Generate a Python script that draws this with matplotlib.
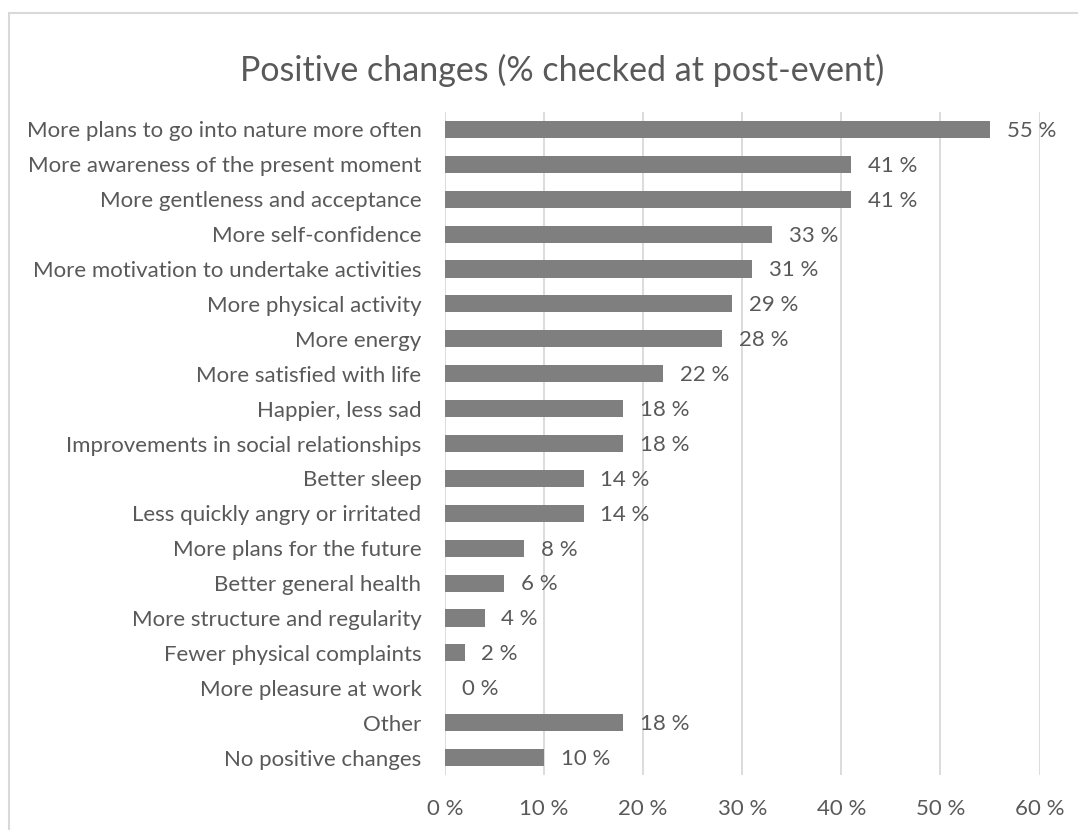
import matplotlib.pyplot as plt
from matplotlib.patches import Rectangle

categories = [
    "More plans to go into nature more often",
    "More awareness of the present moment",
    "More gentleness and acceptance",
    "More self-confidence",
    "More motivation to undertake activities",
    "More physical activity",
    "More energy",
    "More satisfied with life",
    "Happier, less sad",
    "Improvements in social relationships",
    "Better sleep",
    "Less quickly angry or irritated",
    "More plans for the future",
    "Better general health",
    "More structure and regularity",
    "Fewer physical complaints",
    "More pleasure at work",
    "Other",
    "No positive changes",
]
values = [55, 41, 41, 33, 31, 29, 28, 22, 18, 18, 14, 14, 8, 6, 4, 2, 0, 18, 10]
x_ticks = [0, 10, 20, 30, 40, 50, 60]

text_color = "#595959"
plt.rcParams["font.family"] = ["Lato", "DejaVu Sans"]

fig = plt.figure(figsize=(10.78, 8.30), dpi=100)
ax = fig.add_axes([445 / 1078, 1 - 775 / 830, (1039.5 - 445) / 1078, (775 - 112) / 830])

# chart border (only top and left edges visible in the crop)
fig.patches.append(Rectangle((9 / 1078, -0.1), 1.2, 1 - 13 / 830 + 0.1,
                             transform=fig.transFigure, fill=False,
                             edgecolor="#d9d9d9", linewidth=1.5))

ypos = list(range(len(categories)))
bars = ax.barh(ypos, values, height=0.49, color="#7f7f7f", zorder=3)
ax.set_ylim(len(categories) - 0.5, -0.5)
ax.set_xlim(0, 60)

fs = 16
ax.set_yticks(ypos)
ax.set_yticklabels(categories, fontsize=fs, color=text_color)
ax.set_xticks(x_ticks)
ax.set_xticklabels([f"{t} %" for t in x_ticks], fontsize=fs, color=text_color)
ax.tick_params(axis="y", length=0, pad=17)
ax.tick_params(axis="x", length=0, pad=17)

ax.grid(axis="x", color="#d9d9d9", linewidth=1.3, zorder=0)
for s in ax.spines.values():
    s.set_visible(False)

for b, v in zip(bars, values):
    ax.annotate(f"{v} %", (b.get_width(), b.get_y() + b.get_height() / 2),
                xytext=(12, -1), textcoords="offset points",
                va="center", ha="left", fontsize=fs, color=text_color)

fig.text(562 / 1078, 1 - 70 / 830, "Positive changes (% checked at post-event)",
         ha="center", va="center", fontsize=24.5, color=text_color)

fig.savefig("out.png", dpi=100)
